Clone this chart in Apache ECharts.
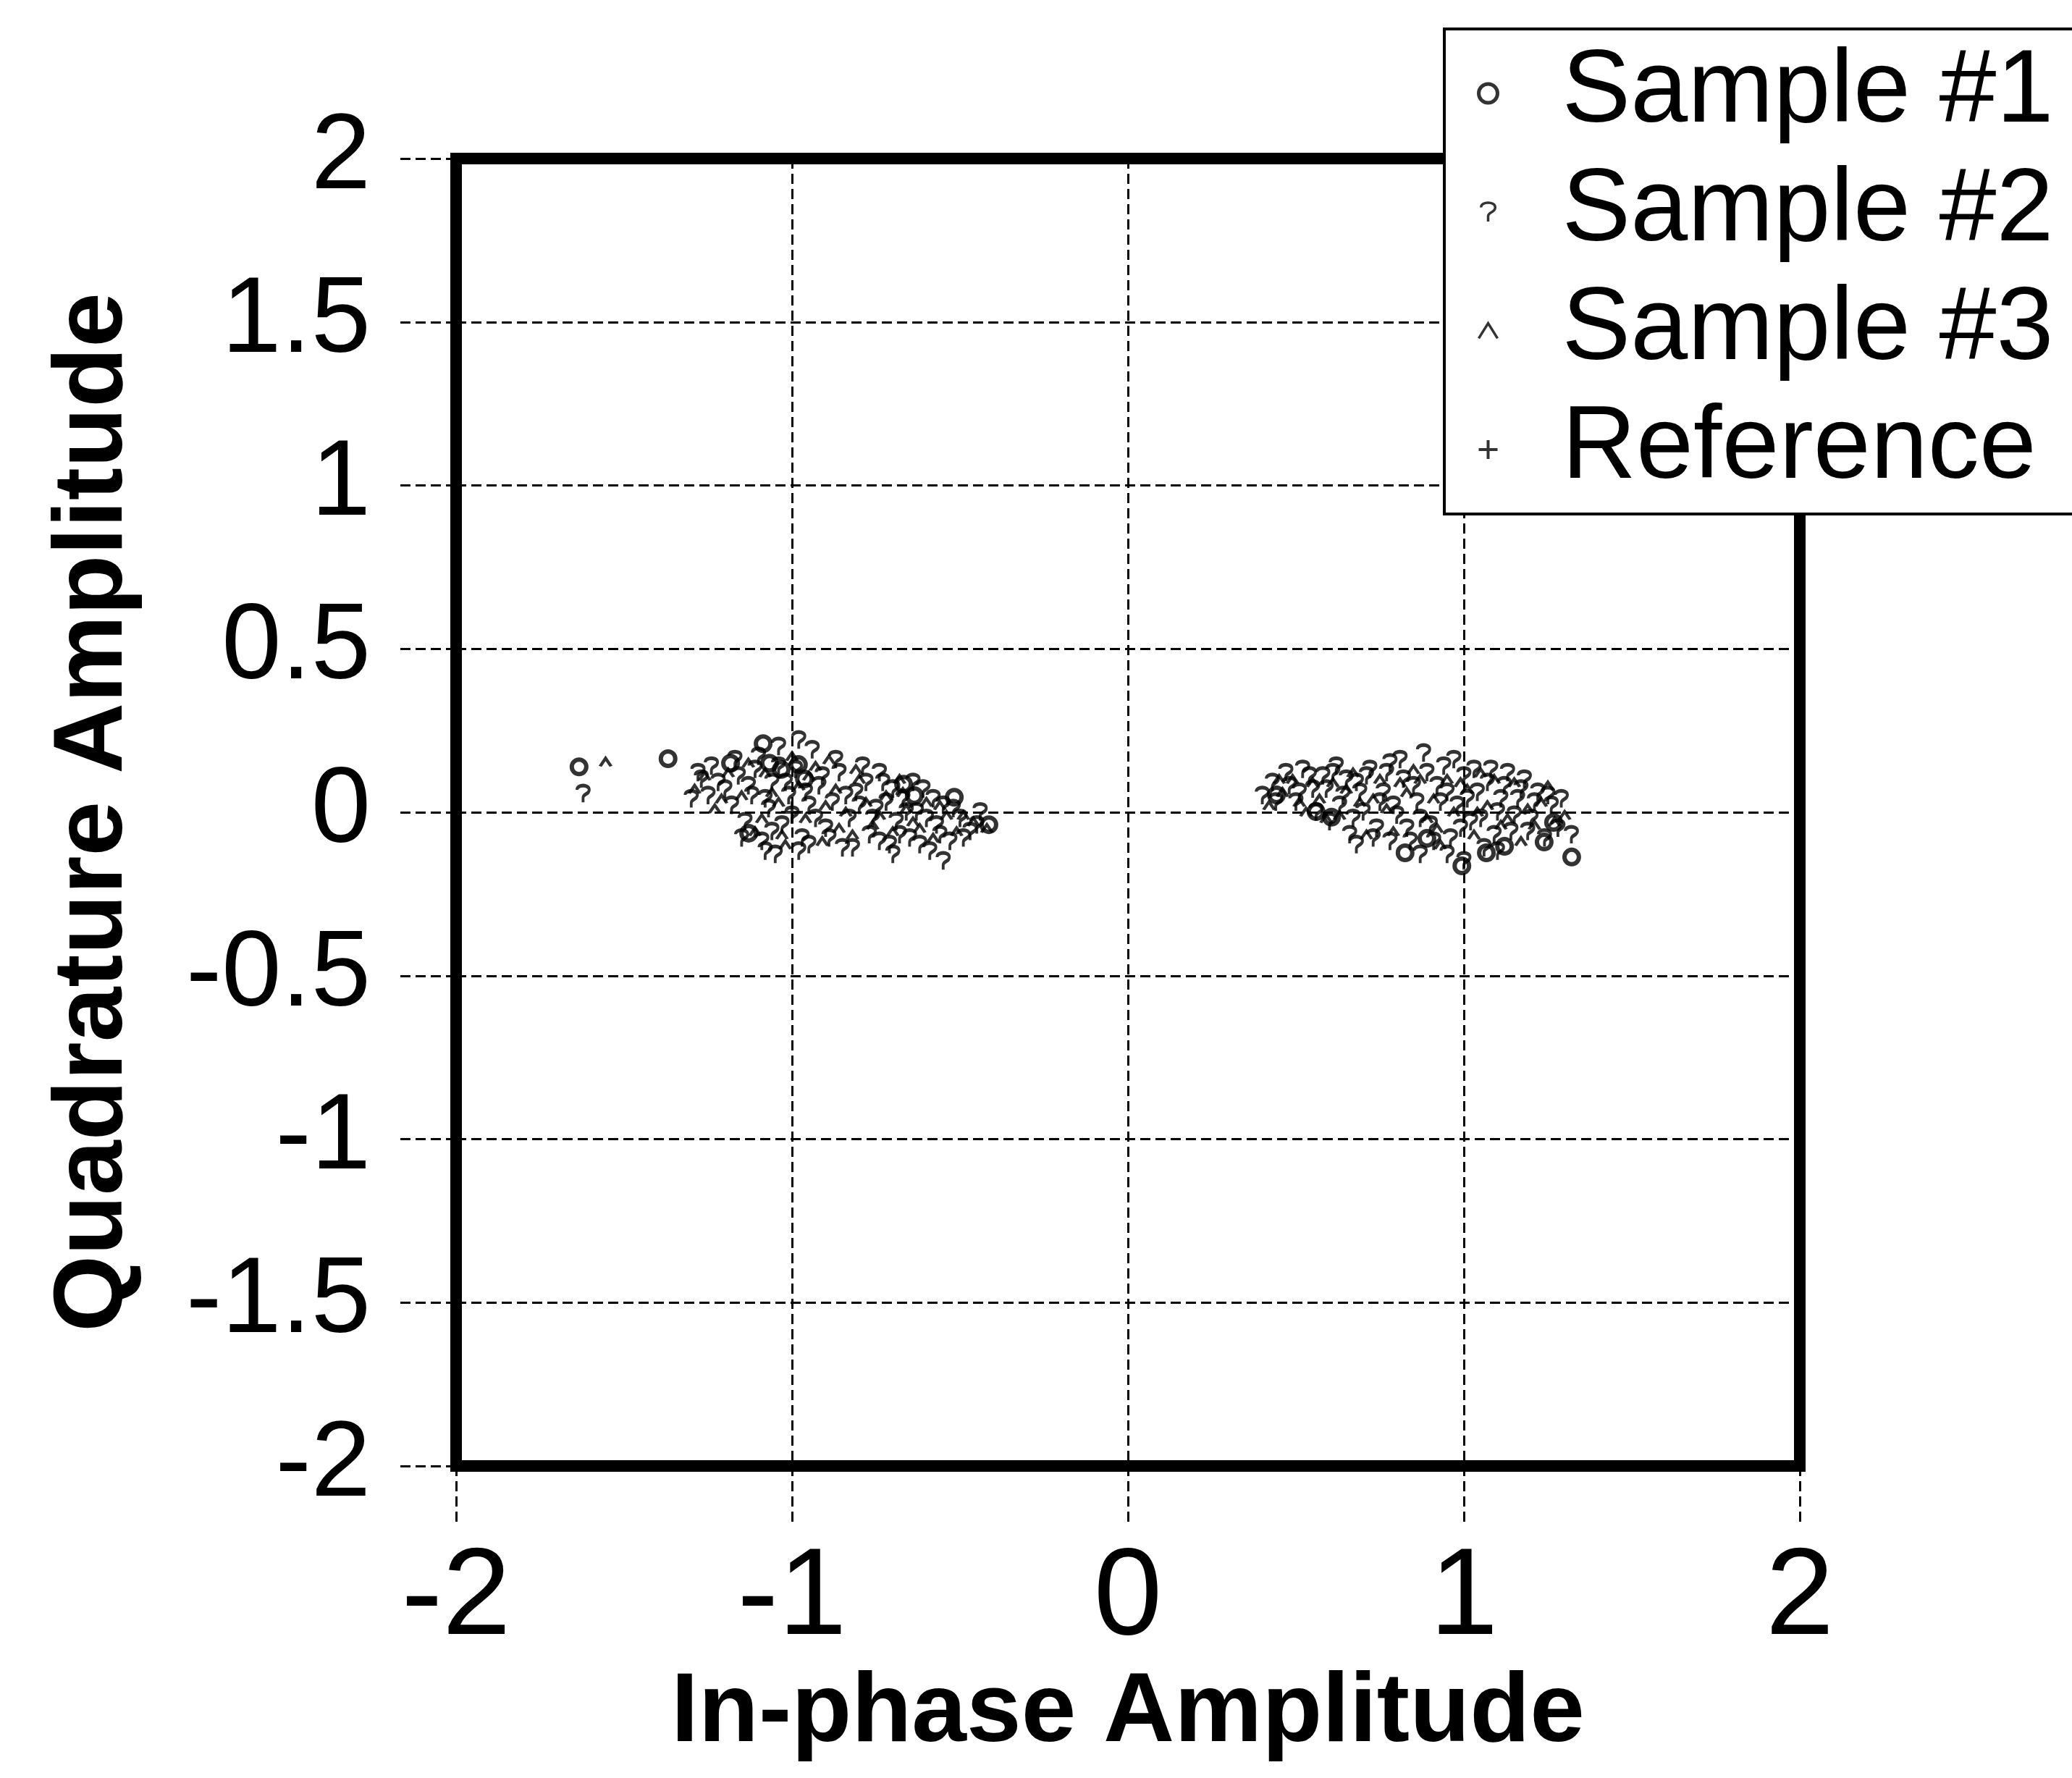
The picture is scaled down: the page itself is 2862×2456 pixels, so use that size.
<!DOCTYPE html>
<html>
<head>
<meta charset="utf-8">
<script src="https://cdn.jsdelivr.net/npm/echarts@6/dist/echarts.min.js"></script>
<style>
  html, body { margin: 0; padding: 0; background: #fff; }
  #chart { width: 2862px; height: 2456px; }
</style>
</head>
<body>
<div id="chart"></div>
<script>
// ---------- data (In-phase, Quadrature) ----------
var xTicks = [-2, -1, 0, 1, 2];
var yTicks = [-2, -1.5, -1, -0.5, 0, 0.5, 1, 1.5, 2];

var seriesNames = ['Sample #1', 'Sample #2', 'Sample #3', 'Reference'];

var sample1 = [
  [-1.634, 0.139], [-1.369, 0.164], [-1.183, 0.150], [-1.086, 0.210], [-1.067, 0.150],
  [-1.032, 0.131], [-0.981, 0.146], [-0.963, 0.102], [-1.129, -0.064], [-0.668, 0.086],
  [-0.636, 0.051], [-0.517, 0.046], [-0.414, -0.038],
  [0.442, 0.053], [0.560, 0.002], [0.606, -0.015], [0.825, -0.124], [0.890, -0.080],
  [0.994, -0.164], [1.067, -0.124], [1.121, -0.104], [1.239, -0.091], [1.267, -0.031],
  [1.321, -0.137]
];

var sample2 = [
  [-1.622, 0.056], [-1.30, 0.04], [-1.27, 0.10], [-1.24, 0.14], [-1.20, 0.07], [-1.18, 0.02],
  [-1.16, 0.11], [-1.14, -0.03], [-1.12, 0.05], [-1.10, 0.17], [-1.09, -0.09], [-1.07, 0.01],
  [-1.06, 0.09], [-1.05, -0.13], [-1.03, -0.04], [-1.01, 0.05], [-0.99, 0.13], [-0.97, -0.08],
  [-0.95, 0.02], [-0.94, 0.19], [-0.92, 0.08], [-0.90, -0.05], [-0.88, 0.03], [-0.86, 0.12],
  [-0.85, -0.11], [-0.83, -0.02], [-0.81, 0.06], [-0.79, 0.14], [-0.77, -0.07], [-0.75, 0.01],
  [-0.73, 0.09], [-0.71, -0.10], [-0.69, -0.03], [-0.67, 0.04], [-0.65, -0.08], [-0.63, 0.00],
  [-0.61, 0.07], [-0.59, -0.12], [-0.57, -0.04], [-0.55, 0.02], [-0.53, -0.09], [-0.50, -0.02],
  [-0.47, -0.06], [-0.44, 0.00], [-0.55, -0.15], [-0.98, 0.22], [-1.04, 0.20], [-1.28, 0.12],
  [-0.74, 0.12],
  [-1.25, 0.05], [-1.22, 0.09], [-1.17, 0.16], [-1.13, 0.08], [-1.11, 0.13], [-1.08, 0.04],
  [-1.06, -0.06], [-1.04, 0.14], [-1.02, 0.09], [-1.00, -0.01], [-0.98, -0.12], [-0.96, 0.06],
  [-0.93, -0.02], [-0.91, 0.11], [-0.89, -0.08], [-0.87, 0.16], [-0.84, 0.05], [-0.82, -0.11],
  [-0.80, 0.02], [-0.78, 0.09], [-0.76, -0.02], [-0.74, -0.09], [-0.72, 0.03], [-0.70, 0.07],
  [-0.68, -0.07], [-0.66, 0.00], [-0.64, 0.09], [-0.62, -0.10], [-0.60, -0.02], [-0.58, 0.04],
  [-0.56, -0.07], [-0.52, 0.01], [-0.49, -0.08], [-0.45, -0.04], [-1.15, -0.08], [-1.08, -0.12],
  [-0.95, -0.10], [-0.70, -0.13],
  [0.40, 0.05], [0.43, 0.09], [0.47, 0.12], [0.50, 0.03], [0.52, 0.13], [0.55, 0.07],
  [0.58, 0.11], [0.60, -0.03], [0.62, 0.14], [0.64, 0.05], [0.66, -0.07], [0.68, 0.09],
  [0.70, 0.00], [0.72, 0.13], [0.74, -0.05], [0.76, 0.06], [0.78, 0.15], [0.80, -0.01],
  [0.82, 0.10], [0.84, -0.09], [0.86, 0.03], [0.88, 0.18], [0.90, -0.04], [0.92, 0.08],
  [0.94, 0.14], [0.96, -0.08], [0.98, 0.02], [1.00, 0.11], [1.02, -0.03], [1.04, 0.06],
  [1.06, -0.11], [1.08, 0.13], [1.10, 0.00], [1.12, 0.08], [1.14, -0.06], [1.16, 0.04],
  [1.18, 0.10], [1.20, -0.02], [1.22, 0.06], [1.24, -0.08], [1.26, 0.02], [1.29, 0.04],
  [1.32, -0.07], [0.68, -0.10], [0.87, -0.13], [1.00, -0.15], [1.13, 0.12],
  [0.44, 0.03], [0.48, 0.08], [0.51, 0.06], [0.54, 0.11], [0.56, 0.00], [0.59, 0.07],
  [0.61, 0.12], [0.63, 0.02], [0.65, 0.10], [0.67, -0.02], [0.69, 0.06], [0.71, 0.11],
  [0.73, -0.08], [0.75, 0.03], [0.77, 0.12], [0.79, 0.02], [0.81, 0.16], [0.83, -0.05],
  [0.85, 0.08], [0.87, -0.02], [0.89, 0.12], [0.91, -0.09], [0.93, 0.03], [0.95, 0.06],
  [0.97, 0.16], [0.99, -0.05], [1.01, 0.04], [1.03, 0.13], [1.05, -0.02], [1.07, 0.09],
  [1.09, -0.07], [1.11, 0.04], [1.15, -0.01], [1.17, 0.07], [1.19, -0.06], [1.21, 0.03],
  [1.25, 0.05], [1.28, -0.05], [0.78, -0.09], [0.95, -0.13], [1.10, -0.12]
];

var sample3 = [
  [-1.555, 0.153], [-1.29, 0.07], [-1.23, 0.01], [-1.19, 0.12], [-1.15, 0.05], [-1.11, -0.06],
  [-1.08, 0.12], [-1.04, 0.03], [-1.02, -0.10], [-0.98, 0.08], [-0.96, -0.02], [-0.93, 0.14],
  [-0.91, -0.09], [-0.87, 0.07], [-0.84, 0.00], [-0.82, -0.07], [-0.80, 0.10], [-0.78, 0.03],
  [-0.76, -0.04], [-0.72, 0.05], [-0.70, -0.06], [-0.68, 0.10], [-0.66, 0.01], [-0.62, -0.05],
  [-0.60, 0.03], [-0.58, -0.08], [-0.54, -0.01], [-0.51, -0.06], [-0.46, -0.03], [-0.42, -0.05],
  [-1.00, 0.17], [-0.89, 0.16],
  [-1.26, 0.11], [-1.21, 0.04], [-1.13, 0.15], [-1.09, -0.02], [-1.06, 0.06], [-0.95, 0.11],
  [-0.90, 0.02], [-0.86, -0.05], [-0.81, 0.13], [-0.74, -0.01], [-0.67, 0.06], [-0.64, -0.03],
  [-0.56, 0.02], [-0.49, -0.01], [-1.03, -0.07],
  [0.42, 0.02], [0.46, 0.06], [0.49, 0.10], [0.53, 0.00], [0.57, 0.04], [0.61, 0.09],
  [0.63, -0.01], [0.67, 0.12], [0.69, 0.03], [0.71, -0.07], [0.75, 0.10], [0.77, 0.01],
  [0.79, -0.06], [0.83, 0.06], [0.85, 0.13], [0.89, -0.02], [0.91, 0.04], [0.93, -0.10],
  [0.95, 0.10], [0.97, 0.00], [1.01, 0.07], [1.03, -0.07], [1.05, 0.12], [1.07, 0.02],
  [1.11, -0.04], [1.15, 0.09], [1.17, -0.09], [1.19, 0.01], [1.23, 0.03], [1.27, -0.03],
  [1.30, -0.01],
  [0.45, 0.10], [0.51, 0.03], [0.55, 0.09], [0.59, -0.02], [0.65, 0.07], [0.73, 0.04],
  [0.81, 0.09], [0.87, 0.10], [0.92, -0.05], [0.99, 0.09], [1.04, 0.00], [1.09, 0.10],
  [1.13, -0.02], [1.21, -0.04], [1.25, 0.08]
];

var reference = [[-1, 0], [1, 0]];

// ---------- styling ----------
var labelFont = "'Liberation Sans Narrow', 'Arial Narrow', 'Liberation Sans', Arial, sans-serif";
var boldFont = "'Liberation Sans', Arial, sans-serif";

var hookPath = 'path://M1,3.5 C1,0 9,0 9,3.5 C9,6.5 5,6 5,8.5 L5,11.5';
var caretPath = 'path://M0,8 L5,0 L10,8';
var plusPath = 'path://M5,0 L5,10 M0,5 L10,5';

var hollow = 'rgba(0,0,0,0)';

var chart = echarts.init(document.getElementById('chart'), null, { renderer: 'canvas' });

var gridLine = { show: true, lineStyle: { color: '#000', width: 3, type: [14, 7] } };
var tick = { show: true, inside: false, length: 78, lineStyle: { color: '#000', width: 3, type: [14, 7] } };

chart.setOption({
  backgroundColor: '#fff',
  animation: false,
  grid: {
    left: 630, right: 376, top: 219, bottom: 431,
    show: true, borderColor: '#000', borderWidth: 16, backgroundColor: 'rgba(0,0,0,0)',
    containLabel: false
  },
  xAxis: {
    type: 'value', min: xTicks[0], max: xTicks[xTicks.length - 1], interval: 1,
    axisLine: { show: false, onZero: false },
    axisTick: tick,
    splitLine: gridLine,
    axisLabel: {
      margin: 100, color: '#000', fontSize: 170, fontFamily: labelFont,
      formatter: function (v) { return String(v); }
    },
    name: 'In-phase Amplitude', nameLocation: 'middle', nameGap: 263,
    nameTextStyle: { color: '#000', fontSize: 136, fontWeight: 'bold', fontFamily: boldFont }
  },
  yAxis: {
    type: 'value', min: yTicks[0], max: yTicks[yTicks.length - 1], interval: 0.5,
    axisLine: { show: false, onZero: false },
    axisTick: tick,
    splitLine: gridLine,
    axisLabel: {
      margin: 118, color: '#000', fontSize: 148, fontFamily: labelFont,
      formatter: function (v) { return String(v); }
    },
    name: 'Quadrature Amplitude', nameLocation: 'middle', nameGap: 432,
    nameTextStyle: { color: '#000', fontSize: 136, fontWeight: 'bold', fontFamily: boldFont }
  },
  legend: {
    orient: 'vertical', left: 1995, top: 40,
    backgroundColor: '#fff', borderColor: '#000', borderWidth: 4, borderRadius: 0,
    padding: [14, 30, 14, 45],
    itemWidth: 26, itemHeight: 26, itemGap: 14,
    textStyle: { color: '#000', fontSize: 142, lineHeight: 150, fontFamily: labelFont, padding: [0, 0, 0, 84] },
    data: [
      { name: seriesNames[0], itemStyle: { borderWidth: 5 } },
      { name: seriesNames[1], itemStyle: { borderWidth: 3.5 } },
      { name: seriesNames[2], itemStyle: { borderWidth: 3.5 } },
      { name: seriesNames[3], itemStyle: { borderWidth: 4 } }
    ],
    z: 10
  },
  series: [
    {
      name: seriesNames[0], type: 'scatter', data: sample1,
      symbol: 'circle', symbolSize: 20,
      itemStyle: { color: hollow, borderColor: '#000', borderWidth: 6 }, z: 5
    },
    {
      name: seriesNames[1], type: 'scatter', data: sample2,
      symbol: hookPath, symbolSize: [17, 23],
      itemStyle: { color: hollow, borderColor: '#000', borderWidth: 4.5 }, z: 3
    },
    {
      name: seriesNames[2], type: 'scatter', data: sample3,
      symbol: caretPath, symbolSize: [15, 11],
      itemStyle: { color: hollow, borderColor: '#000', borderWidth: 4 }, z: 3
    },
    {
      name: seriesNames[3], type: 'scatter', data: reference,
      symbol: plusPath, symbolSize: 30,
      itemStyle: { color: hollow, borderColor: '#000', borderWidth: 4 }, z: 4
    }
  ]
});
</script>
</body>
</html>
